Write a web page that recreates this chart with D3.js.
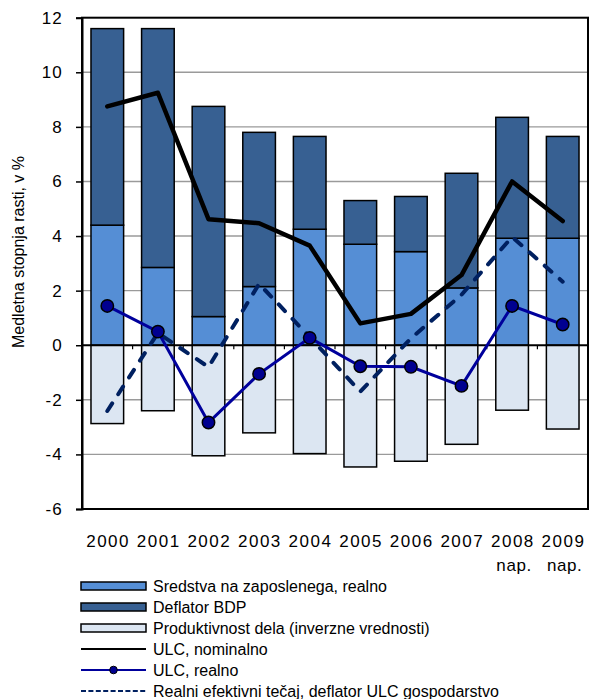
<!DOCTYPE html>
<html>
<head>
<meta charset="utf-8">
<script src="https://cdn.jsdelivr.net/npm/d3@7"></script>
<style>
  html, body { margin: 0; padding: 0; background: #fff; }
  svg { display: block; }
  text { font-family: "Liberation Sans", Arial, sans-serif; fill: #000; }
</style>
</head>
<body>
<svg id="chart" width="590" height="699"></svg>
<script>
// Years and the "nap." (forecast) marker under the last two
const years = ["2000", "2001", "2002", "2003", "2004", "2005", "2006", "2007", "2008", "2009"];
const forecastYears = ["2008", "2009"];

// Stacked bar components (annual growth, %)
const sredstva = [4.4, 2.85, 1.05, 2.15, 4.25, 3.7, 3.43, 2.1, 3.92, 3.92];       // Sredstva na zaposlenega, realno
const deflator = [7.2, 8.75, 7.7, 5.65, 3.4, 1.6, 2.02, 4.2, 4.43, 3.73];        // Deflator BDP
const produktivnost = [-2.87, -2.4, -4.05, -3.21, -3.97, -4.46, -4.25, -3.63, -2.38, -3.07]; // inverse values

// Line series
const ulcNominal = [8.75, 9.25, 4.62, 4.47, 3.65, 0.8, 1.15, 2.57, 6.0, 4.55];
const ulcReal = [1.44, 0.5, -2.83, -1.05, 0.27, -0.77, -0.79, -1.49, 1.44, 0.76];
const reer = [-2.41, 0.45, -0.8, 2.25, 0.3, -1.7, 0.25, 1.85, 3.97, 2.33];

const yTicks = [-6, -4, -2, 0, 2, 4, 6, 8, 10, 12];

const legendItems = [
  { label: "Sredstva na zaposlenega, realno", type: "bar", fill: "#558ED5" },
  { label: "Deflator BDP", type: "bar", fill: "#376092" },
  { label: "Produktivnost dela (inverzne vrednosti)", type: "bar", fill: "#DCE6F2" },
  { label: "ULC, nominalno", type: "line" },
  { label: "ULC, realno", type: "marker" },
  { label: "Realni efektivni tečaj, deflator ULC gospodarstvo", type: "dash" }
];

const C = {
  light: "#558ED5",
  dark: "#376092",
  pale: "#DCE6F2",
  real: "#00009C",
  realFill: "#000090",
  reer: "#002060",
  grid: "#9a9a9a"
};

const svg = d3.select("#chart");
const plot = { left: 82, right: 588, top: 17.7, bottom: 509 };

const x = d3.scaleBand()
  .domain(years)
  .range([plot.left, plot.right])
  .paddingInner(0.355)
  .paddingOuter(0.1775);

const y = d3.scaleLinear()
  .domain([-6, 12])
  .range([plot.bottom, plot.top]);

const cx = d => x(d) + x.bandwidth() / 2;

// Horizontal gridlines
svg.append("g")
  .selectAll("line")
  .data(yTicks.filter(t => t !== 0 && t !== -6 && t !== 12))
  .join("line")
  .attr("x1", plot.left).attr("x2", plot.right)
  .attr("y1", d => y(d)).attr("y2", d => y(d))
  .attr("stroke", C.grid)
  .attr("stroke-width", 1.4);

// Bars
const rows = years.map((yr, i) => ({
  year: yr, s: sredstva[i], d: deflator[i], p: produktivnost[i]
}));
const bars = svg.append("g").attr("stroke", "#000").attr("stroke-width", 1.5);

bars.selectAll("rect.pale").data(rows).join("rect")
  .attr("class", "pale")
  .attr("x", d => x(d.year)).attr("width", x.bandwidth())
  .attr("y", y(0)).attr("height", d => y(d.p) - y(0))
  .attr("fill", C.pale);

bars.selectAll("rect.light").data(rows).join("rect")
  .attr("class", "light")
  .attr("x", d => x(d.year)).attr("width", x.bandwidth())
  .attr("y", d => y(d.s)).attr("height", d => y(0) - y(d.s))
  .attr("fill", C.light);

bars.selectAll("rect.dark").data(rows).join("rect")
  .attr("class", "dark")
  .attr("x", d => x(d.year)).attr("width", x.bandwidth())
  .attr("y", d => y(d.s + d.d)).attr("height", d => y(d.s) - y(d.s + d.d))
  .attr("fill", C.dark);

// Zero line with category ticks
svg.append("line")
  .attr("x1", plot.left).attr("x2", plot.right)
  .attr("y1", y(0)).attr("y2", y(0))
  .attr("stroke", "#000").attr("stroke-width", 1.8);

svg.append("g")
  .selectAll("line")
  .data(d3.range(1, years.length))
  .join("line")
  .attr("x1", i => plot.left + i * x.step())
  .attr("x2", i => plot.left + i * x.step())
  .attr("y1", y(0)).attr("y2", y(0) + 4)
  .attr("stroke", "#000").attr("stroke-width", 1.2);

// Plot frame
svg.append("rect")
  .attr("x", plot.left).attr("y", plot.top)
  .attr("width", plot.right - plot.left).attr("height", plot.bottom - plot.top)
  .attr("fill", "none").attr("stroke", "#000").attr("stroke-width", 2);

// Y axis (plain hyphen for negatives)
const yAxis = svg.append("g")
  .attr("transform", `translate(${plot.left},0)`)
  .call(d3.axisLeft(y).tickValues(yTicks).tickSize(6).tickPadding(13).tickFormat(d => String(d)));
yAxis.select(".domain").attr("stroke", "#000").attr("stroke-width", 2);
yAxis.selectAll(".tick line").attr("stroke", "#000").attr("stroke-width", 1.5);
yAxis.selectAll(".tick text")
  .attr("font-family", "Liberation Sans, Arial, sans-serif")
  .attr("font-size", 17)
  .attr("letter-spacing", 1.2)
  .attr("fill", "#000");

// Y axis title
svg.append("text")
  .attr("transform", "translate(24,252) rotate(-90)")
  .attr("text-anchor", "middle")
  .attr("font-size", 16)
  .text("Medletna stopnja rasti, v %");

// Category labels
const xl = svg.append("g");
xl.selectAll("text.yr").data(years).join("text")
  .attr("class", "yr")
  .attr("x", d => cx(d) + 0.8).attr("y", 547)
  .attr("text-anchor", "middle")
  .attr("font-size", 17)
  .attr("letter-spacing", 1.5)
  .text(d => d);
xl.selectAll("text.nap").data(forecastYears).join("text")
  .attr("class", "nap")
  .attr("x", d => cx(d) + 2).attr("y", 571)
  .attr("text-anchor", "middle")
  .attr("font-size", 17)
  .attr("letter-spacing", 0.6)
  .text("nap.");

// Lines
const line = d3.line().x(d => cx(d.year)).y(d => y(d.v));
const asPts = arr => years.map((yr, i) => ({ year: yr, v: arr[i] }));

svg.append("path")
  .datum(asPts(ulcNominal))
  .attr("d", line)
  .attr("fill", "none").attr("stroke", "#000")
  .attr("stroke-width", 4.5)
  .attr("stroke-linejoin", "round").attr("stroke-linecap", "round");

svg.append("path")
  .datum(asPts(reer))
  .attr("d", line)
  .attr("fill", "none").attr("stroke", C.reer)
  .attr("stroke-width", 4)
  .attr("stroke-dasharray", "9,11")
  .attr("stroke-linecap", "round");

svg.append("path")
  .datum(asPts(ulcReal))
  .attr("d", line)
  .attr("fill", "none").attr("stroke", C.real)
  .attr("stroke-width", 3);

svg.append("g")
  .selectAll("circle")
  .data(asPts(ulcReal))
  .join("circle")
  .attr("cx", d => cx(d.year)).attr("cy", d => y(d.v))
  .attr("r", 6.2)
  .attr("fill", C.realFill)
  .attr("stroke", "#000").attr("stroke-width", 1.5);

// Legend
const lg = svg.append("g").attr("transform", "translate(81,586)");
const rowH = 21;
const item = lg.selectAll("g").data(legendItems).join("g")
  .attr("transform", (d, i) => `translate(0,${i * rowH})`);

item.filter(d => d.type === "bar").append("rect")
  .attr("x", 0).attr("y", -4).attr("width", 65).attr("height", 8)
  .attr("fill", d => d.fill).attr("stroke", "#000").attr("stroke-width", 1.5);

item.filter(d => d.type === "line").append("line")
  .attr("x1", 0).attr("x2", 65).attr("y1", 0).attr("y2", 0)
  .attr("stroke", "#000").attr("stroke-width", 2);

const mk = item.filter(d => d.type === "marker");
mk.append("line")
  .attr("x1", 0).attr("x2", 65).attr("y1", 0).attr("y2", 0)
  .attr("stroke", C.real).attr("stroke-width", 2);
mk.append("circle")
  .attr("cx", 32.5).attr("cy", 0).attr("r", 3.8)
  .attr("fill", C.realFill).attr("stroke", "#000").attr("stroke-width", 1);

item.filter(d => d.type === "dash").append("line")
  .attr("x1", 0).attr("x2", 65).attr("y1", 0).attr("y2", 0)
  .attr("stroke", C.reer).attr("stroke-width", 2)
  .attr("stroke-dasharray", "5,2.4");

item.append("text")
  .attr("x", 72).attr("y", 0).attr("dy", "0.36em")
  .attr("font-size", 16)
  .text(d => d.label);
</script>
</body>
</html>
